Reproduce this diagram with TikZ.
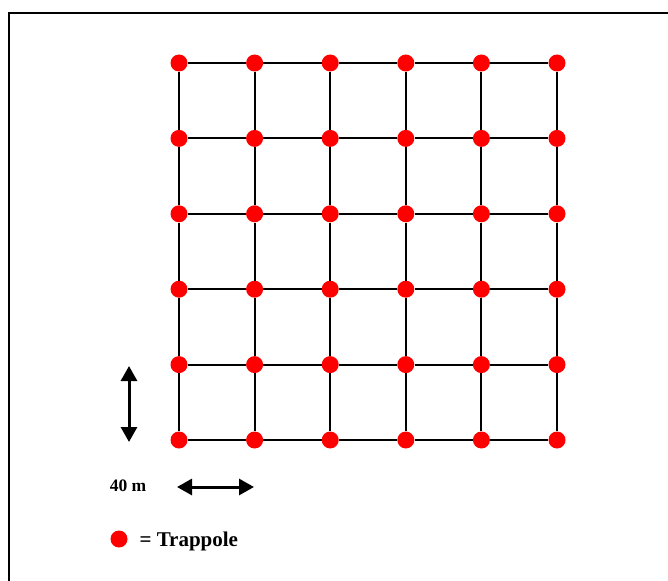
\documentclass[tikz,border=0pt]{standalone}
\usepackage{fontspec}
\setmainfont{Liberation Serif}
\usetikzlibrary{arrows.meta}

\begin{document}
\begin{tikzpicture}[x=1pt,y=-1pt,>={Triangle[length=15pt,width=16pt]},
trap/.style={circle,fill=red,inner sep=0pt,minimum size=17pt},
gridline/.style={draw,line width=2pt},
scalearrow/.style={<->,line width=3pt},
lbl/.style={font=\bfseries\fontsize{17.5}{20}\selectfont}]
\clip (0,0) rectangle (668,580);
\draw[line width=2pt] (9,13) rectangle (720,640);
% traps on a 6 x 6 grid
\foreach \i in {0,...,5}
  \foreach \j in {0,...,5}
    \node[trap] (t\i\j) at ({179+75.6*\i},{63+75.4*\j}) {};
% grid lines between neighbouring traps
\foreach \i in {0,...,5}
  \foreach \j in {0,...,4} {
    \pgfmathtruncatemacro\k{\j+1}
    \draw[gridline] (t\i\j) -- (t\i\k);
    \draw[gridline] (t\j\i) -- (t\k\i);
  }
% scale
\coordinate (vtop) at (129,366);
\coordinate (vbot) at (129,442);
\coordinate (hleft) at (177,487);
\coordinate (hright) at (254,487);
\draw[scalearrow] (vtop) -- (vbot);
\draw[scalearrow] (hleft) -- (hright);
\node[lbl] (dist) at (128,486) {40 m};
% legend
\node[trap] (key) at (119,539) {};
\node[lbl,font=\bfseries\fontsize{21}{24}\selectfont,anchor=west] (keytext) at (136,541) {= Trappole};
\end{tikzpicture}
\end{document}
